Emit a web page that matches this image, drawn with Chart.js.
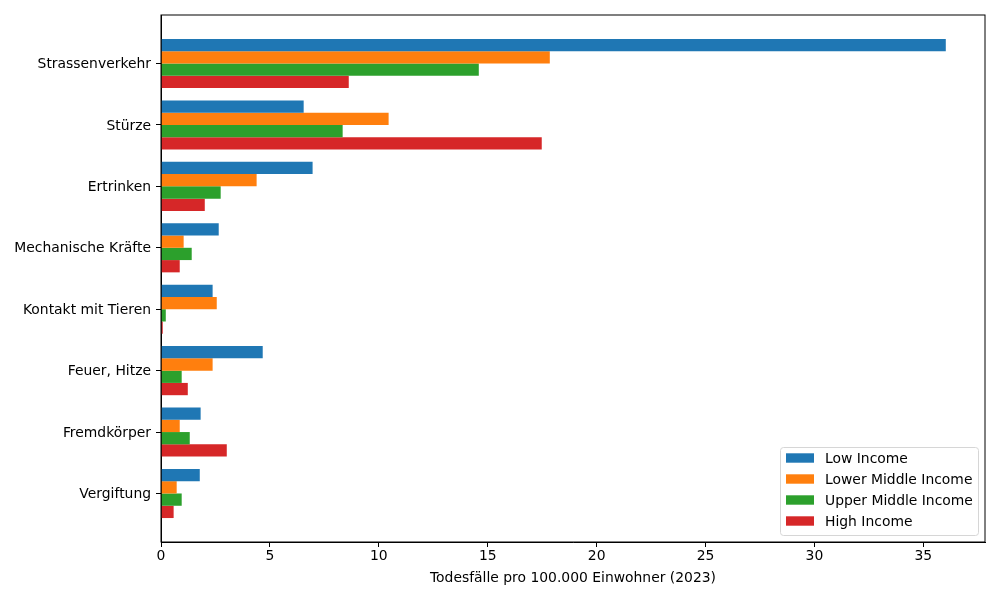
<!DOCTYPE html>
<html>
<head>
<meta charset="utf-8">
<script src="https://cdn.jsdelivr.net/npm/chart.js@4"></script>
<style>
  body { margin: 0; background: #fff; }
  #wrap { width: 1000px; height: 600px; }
</style>
</head>
<body>
<div id="wrap"><canvas id="injuries"></canvas></div>
<script>
// --- data ---
var categories = ["Strassenverkehr", "Stürze", "Ertrinken", "Mechanische Kräfte",
	"Kontakt mit Tieren", "Feuer, Hitze", "Fremdkörper", "Vergiftung"];
var lowIncome = [36.03, 6.55, 6.96, 2.65, 2.37, 4.67, 1.82, 1.78];
var lowerMiddleIncome = [17.85, 10.45, 4.39, 1.04, 2.56, 2.37, 0.86, 0.72];
var upperMiddleIncome = [14.59, 8.34, 2.74, 1.41, 0.22, 0.95, 1.32, 0.95];
var highIncome = [8.62, 17.48, 2.01, 0.86, 0.08, 1.23, 3.02, 0.58];
var seriesNames = ["Low Income", "Lower Middle Income", "Upper Middle Income", "High Income"];
var xTicks = [0, 5, 10, 15, 20, 25, 30, 35];

var colors = ['#1f77b4', '#ff7f0e', '#2ca02c', '#d62728'];
var font = { family: 'DejaVu Sans', size: 13.9 };

function points(values) {
	return values.map(function(v, i) { return { x: v, y: i }; });
}

// frame around the plot area (matplotlib style box)
var framePlugin = {
	id: 'frame',
	afterDatasetsDraw: function(chart) {
		var a = chart.chartArea, ctx = chart.ctx;
		ctx.save();
		ctx.strokeStyle = '#000';
		ctx.lineWidth = 1;
		ctx.strokeRect(a.left, a.top, a.right - a.left, a.bottom - a.top);
		ctx.restore();
	}
};

// legend inside the plot, lower right
var legendPlugin = {
	id: 'innerLegend',
	afterDraw: function(chart) {
		var a = chart.chartArea, ctx = chart.ctx;
		var bx = a.right - 205, by = a.bottom - 95, bw = 198, bh = 88;
		ctx.save();
		ctx.beginPath();
		ctx.roundRect(bx + 0.5, by + 0.5, bw, bh, 3);
		ctx.fillStyle = 'rgba(255,255,255,0.8)';
		ctx.fill();
		ctx.strokeStyle = '#d6d6d6';
		ctx.lineWidth = 1;
		ctx.stroke();
		ctx.font = font.size + 'px ' + font.family;
		ctx.textBaseline = 'middle';
		chart.data.datasets.forEach(function(ds, i) {
			var cy = by + 11 + i * 21;
			ctx.fillStyle = ds.backgroundColor;
			ctx.fillRect(bx + 6, cy - 4.7, 28, 9.4);
			ctx.fillStyle = '#000';
			ctx.fillText(ds.label, bx + 45, cy + 1);
		});
		ctx.restore();
	}
};

var ctx = document.getElementById('injuries').getContext('2d');

var injuryChart = new Chart(ctx, {
	type: 'bar',
	data: {
		datasets: [
			{ label: seriesNames[0], data: points(lowIncome), backgroundColor: colors[0] },
			{ label: seriesNames[1], data: points(lowerMiddleIncome), backgroundColor: colors[1] },
			{ label: seriesNames[2], data: points(upperMiddleIncome), backgroundColor: colors[2] },
			{ label: seriesNames[3], data: points(highIncome), backgroundColor: colors[3] }
		]
	},
	options: {
		indexAxis: 'y',
		responsive: true,
		maintainAspectRatio: false,
		animation: false,
		categoryPercentage: 0.8,
		barPercentage: 1.0,
		borderWidth: 0,
		layout: { padding: { top: 15, right: 15, left: 0, bottom: 0 } },
		plugins: {
			legend: { display: false },
			tooltip: { enabled: false }
		},
		scales: {
			x: {
				type: 'linear',
				min: 0,
				max: 37.83,
				afterBuildTicks: function(scale) {
					scale.ticks = xTicks.map(function(v) { return { value: v }; });
				},
				afterFit: function(scale) { scale.height = 58; },
				grid: { drawOnChartArea: false, drawTicks: true, tickLength: 5, color: '#000' },
				border: { display: true, color: '#000' },
				ticks: { color: '#000', font: font, padding: 1, maxRotation: 0 },
				title: {
					display: true,
					text: 'Todesfälle pro 100.000 Einwohner (2023)',
					color: '#000',
					font: font,
					padding: { top: 0, bottom: 13 }
				}
			},
			y: {
				type: 'linear',
				reverse: true,
				offset: false,
				min: -0.79,
				max: 7.79,
				afterBuildTicks: function(scale) {
					scale.ticks = categories.map(function(c, i) { return { value: i }; });
				},
				afterFit: function(scale) { scale.width = 161; },
				grid: { offset: false, drawOnChartArea: false, drawTicks: true, tickLength: 5, color: '#000' },
				border: { display: true, color: '#000' },
				ticks: {
					color: '#000',
					font: font,
					padding: 5,
					labelOffset: 1,
					callback: function(value) { return categories[value]; }
				}
			}
		}
	},
	plugins: [framePlugin, legendPlugin]
});
</script>
</body>
</html>
